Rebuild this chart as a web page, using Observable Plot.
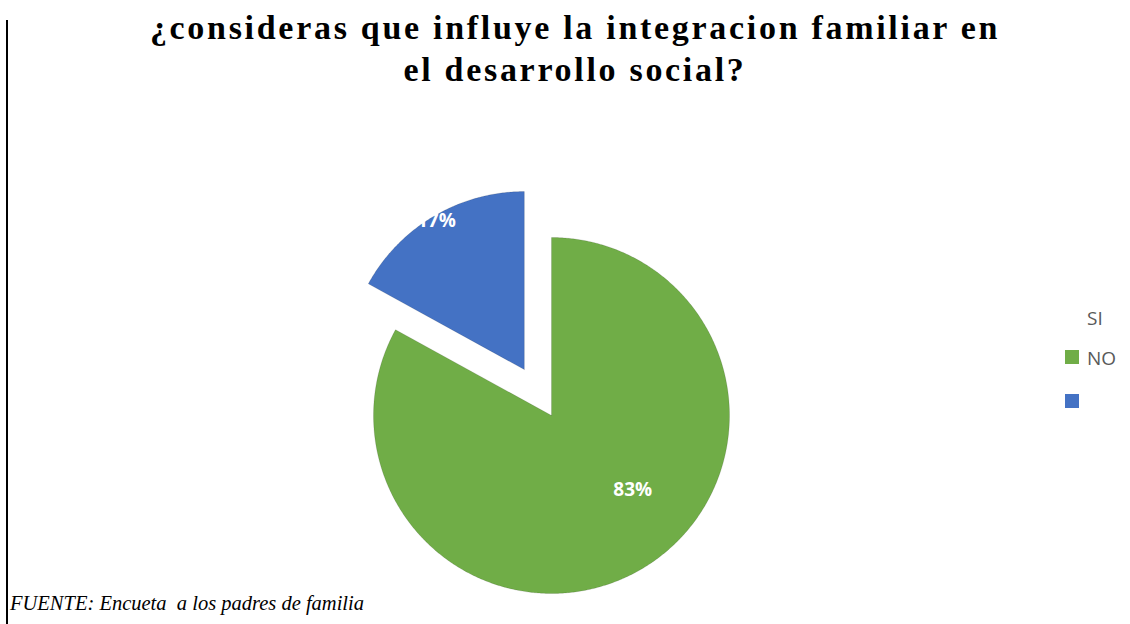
<!DOCTYPE html>
<html><head><meta charset="utf-8">
<script src="https://cdn.jsdelivr.net/npm/d3@7"></script>
<script src="https://cdn.jsdelivr.net/npm/@observablehq/plot@0.6"></script>
<style>
body{margin:0;background:#fff;}
#wrap{position:relative;width:1130px;height:624px;overflow:hidden;background:#fff;}
#chart{position:absolute;left:0;top:0;}
#title{position:absolute;left:0;width:1150px;top:7px;text-align:center;font-family:"Liberation Serif","Times New Roman",serif;font-weight:bold;font-size:34px;line-height:42px;letter-spacing:2.7px;color:#000;}
#caption{position:absolute;left:10px;top:592px;font-family:"Liberation Serif","Times New Roman",serif;font-style:italic;font-size:20.5px;color:#000;white-space:pre;}
#vline{position:absolute;left:6px;top:20px;width:2px;height:604px;background:#000;}
#legend{position:absolute;left:1065px;top:305px;font-family:"Open Sans",sans-serif;font-size:19px;color:#595959;}
.row{position:relative;height:40px;}
.sw{position:absolute;left:0;width:14px;height:14px;}
.lt{position:absolute;left:22px;line-height:26px;}
</style></head>
<body><div id="wrap">
<div id="chart"></div>
<div id="vline"></div>
<div id="title">¿consideras que influye la integracion familiar en<br>el desarrollo social?</div>
<div id="caption">FUENTE: Encueta  a los padres de familia</div>
<div id="legend"></div>
</div>
<script>
const categories = ["SI", "NO"];
const values = [83, 17];
const labels = ["83%", "17%"];
const colors = ["#70AD47", "#4472C4"];
const explode = [0, 0.3];

const total = d3.sum(values);
const pts = [];
const labelData = [];
let acc = 0;
values.forEach((v, i) => {
  const a0 = acc / total * 2 * Math.PI;
  acc += v;
  const a1 = acc / total * 2 * Math.PI;
  const am = (a0 + a1) / 2;
  const ox = explode[i] * Math.sin(am), oy = explode[i] * Math.cos(am);
  pts.push({cat: categories[i], x: ox, y: oy});
  const n = Math.max(2, Math.ceil((a1 - a0) / (Math.PI / 360)));
  for (let k = 0; k <= n; k++) {
    const a = a0 + (a1 - a0) * k / n;
    pts.push({cat: categories[i], x: ox + Math.sin(a), y: oy + Math.cos(a)});
  }
  pts.push({cat: categories[i], x: ox, y: oy});
  const lr = i === 0 ? 0.61 : 0.97;
  labelData.push({cat: categories[i], text: labels[i], x: ox + lr * Math.sin(am), y: oy + lr * Math.cos(am)});
});

const cx = 551, cy = 415, r = 178;
const chart = Plot.plot({
  width: 1130, height: 624, margin: 0,
  x: {domain: [-1, 1], range: [cx - r, cx + r], axis: null},
  y: {domain: [-1, 1], range: [cy + r, cy - r], axis: null},
  color: {domain: categories, range: colors},
  style: {background: "transparent"},
  marks: [
    Plot.line(pts, {x: "x", y: "y", z: "cat", fill: "cat", stroke: "rgba(0,0,0,0.12)", strokeWidth: 1}),
    Plot.text(labelData.filter(d => d.cat === "SI"), {x: "x", y: "y", text: "text", fill: "white", fontWeight: "bold", fontSize: 19, fontFamily: "Open Sans", dx: 26, dy: -19}),
    Plot.text(labelData.filter(d => d.cat === "NO"), {x: "x", y: "y", text: "text", fill: "white", fontWeight: "bold", fontSize: 19, fontFamily: "Open Sans"})
  ]
});
document.getElementById("chart").appendChild(chart);

// legend (as in the reference, labels shifted one row above their swatches)
const leg = document.getElementById("legend");
const rows = [{t: categories[0], c: null}, {t: categories[1], c: colors[0]}, {t: "", c: colors[1]}];
rows.forEach((rw, j) => {
  const d = document.createElement("div"); d.className = "row";
  if (rw.c) { const s = document.createElement("div"); s.className = "sw"; s.style.background = rw.c; s.style.top = (j === 2 ? 9 : 5) + "px"; d.appendChild(s); }
  const t = document.createElement("div"); t.className = "lt"; t.textContent = rw.t; d.appendChild(t);
  leg.appendChild(d);
});
</script>
</body></html>
